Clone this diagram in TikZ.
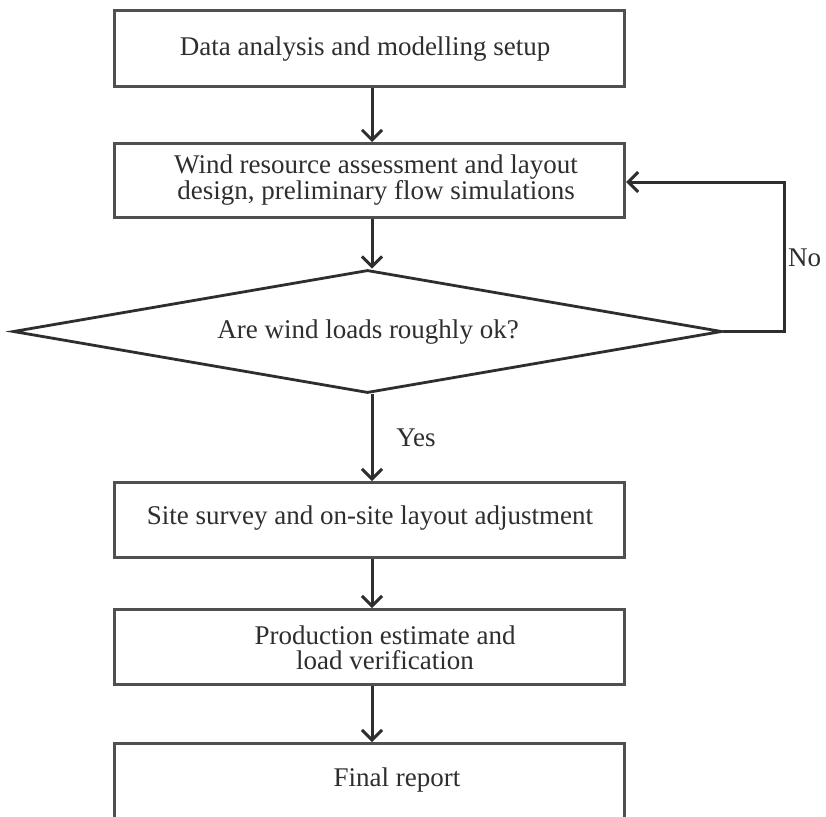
\documentclass[tikz,border=0pt]{standalone}
\usepackage{fontspec}
\setmainfont{Liberation Serif}
\usetikzlibrary{arrows.meta,shapes.geometric,calc}
\definecolor{ink}{HTML}{2E2E2E}
\definecolor{edge}{HTML}{505050}
\begin{document}
\begin{tikzpicture}[x=1pt,y=-1pt,
  boxnode/.style={draw=edge,line width=3pt,minimum width=510pt,minimum height=75pt,inner sep=0pt,anchor=north west},
  txt/.style={text=ink,font=\fontsize{27}{22}\selectfont,align=center,inner sep=0pt},
  arr/.style={draw=ink,line width=3pt,-{Straight Barb[length=10pt,width=20pt,line width=3pt]}}]
\clip (0,0) rectangle (826,816);
\fill[white] (0,0) rectangle (826,816);
\coordinate (ax) at (372,0);
% boxes
\node[boxnode,minimum height=76pt] (b1) at (113,9) {};
\node[boxnode,minimum height=74pt] (b2) at (113,142) {};
\node[boxnode,minimum height=75pt] (b3) at (113,481) {};
\node[boxnode,minimum height=75pt] (b4) at (113,608) {};
\node[boxnode,minimum height=76pt] (b5) at (113,742) {};
% diamond
\node[draw=ink,line width=2.8pt,diamond,minimum width=709pt,minimum height=123pt,inner sep=0pt] (d) at (367.5,331.5) {};
% texts
\node[txt] (t1) at (365,49) {Data analysis and modelling setup};
\node[txt,font=\fontsize{27}{21}\selectfont] (t2) at (376,180) {Wind resource assessment and layout\\design, preliminary flow simulations};
\node[txt] (td) at (368,332) {Are wind loads roughly ok?};
\node[txt] (t3) at (370,518) {Site survey and on-site layout adjustment};
\node[txt,font=\fontsize{27}{25}\selectfont] (t4) at (385,648) {Production estimate and\\load verification};
\node[txt] (t5) at (397,780) {Final report};
\node[txt,anchor=west] (no) at (788,258) {No};
\node[txt] (yes) at (416,438) {Yes};
% connectors
\draw[arr] (b1.south -| ax) -- (b2.north -| ax);
\draw[arr] (b2.south -| ax) -- (d.north -| ax);
\draw[arr] (d.south -| ax) -- (b3.north -| ax);
\draw[arr] (b3.south -| ax) -- (b4.north -| ax);
\draw[arr] (b4.south -| ax) -- (b5.north -| ax);
\coordinate (fb) at (784,182);
\draw[arr] (d.east) -| (fb) -- (fb -| b2.east);
\end{tikzpicture}
\end{document}
